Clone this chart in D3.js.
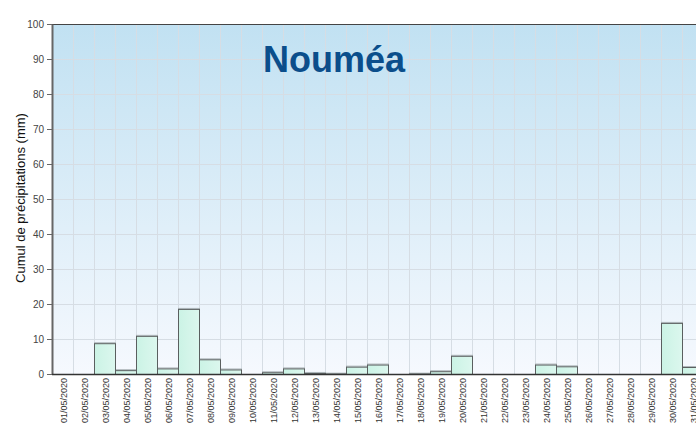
<!DOCTYPE html>
<html><head><meta charset="utf-8">
<script src="https://cdn.jsdelivr.net/npm/d3@7"></script>
<style>body{margin:0;background:#fff;}svg{display:block;font-family:"Liberation Sans",Arial,sans-serif;}</style>
</head><body>
<svg id="c" width="696" height="428"></svg>
<script>
const categories = ["01/05/2020","02/05/2020","03/05/2020","04/05/2020","05/05/2020","06/05/2020","07/05/2020","08/05/2020","09/05/2020","10/05/2020","11/05/2020","12/05/2020","13/05/2020","14/05/2020","15/05/2020","16/05/2020","17/05/2020","18/05/2020","19/05/2020","20/05/2020","21/05/2020","22/05/2020","23/05/2020","24/05/2020","25/05/2020","26/05/2020","27/05/2020","28/05/2020","29/05/2020","30/05/2020","31/05/2020"];
const rainfall = [0,0,8.8,1.1,10.9,1.6,18.6,4.2,1.3,0,0.5,1.6,0.3,0.1,2.1,2.7,0,0.1,0.8,5.2,0,0,0,2.7,2.2,0,0,0,0,14.6,2.0];
const yTicks = [0,10,20,30,40,50,60,70,80,90,100];
const title = "Nouméa";
const yLabel = "Cumul de précipitations (mm)";

const svg = d3.select("#c");
const L = 52, T = 24, B = 374, R = L + categories.length * 21;
const x = d3.scaleBand().domain(categories).range([L, R]).padding(0);
const y = d3.scaleLinear().domain([0, 100]).range([B, T]);

const defs = svg.append("defs");
const bg = defs.append("linearGradient").attr("id","bg").attr("x1",0).attr("y1",0).attr("x2",0).attr("y2",1);
bg.append("stop").attr("offset","0%").attr("stop-color","#c1e1f2");
bg.append("stop").attr("offset","100%").attr("stop-color","#f6f9fe");
const bf = defs.append("linearGradient").attr("id","bf").attr("x1",0).attr("y1",0).attr("x2",1).attr("y2",0);
bf.append("stop").attr("offset","0%").attr("stop-color","#cbf3e5");
bf.append("stop").attr("offset","100%").attr("stop-color","#dcf7ee");

svg.append("rect").attr("x",L).attr("y",T).attr("width",R-L).attr("height",B-T).attr("fill","url(#bg)");

// grid
svg.append("g").selectAll("line").data(yTicks).join("line")
  .attr("x1",L).attr("x2",R).attr("y1",d=>y(d)+0.5).attr("y2",d=>y(d)+0.5)
  .attr("stroke","#d6dde4").attr("stroke-width",1);
svg.append("g").selectAll("line").data(categories.slice(1)).join("line")
  .attr("x1",d=>Math.round(x(d))+0.5).attr("x2",d=>Math.round(x(d))+0.5).attr("y1",T).attr("y2",B)
  .attr("stroke","#d6dde4").attr("stroke-width",1);

// bars shadow
svg.append("g").selectAll("rect").data(categories).join("rect")
  .attr("x",d=>x(d)+0.5).attr("y",(d,i)=>y(rainfall[i])-0.5)
  .attr("width",x.bandwidth()).attr("height",(d,i)=>Math.max(0,B-y(rainfall[i])))
  .attr("fill","none").attr("stroke","#b0b8bc").attr("stroke-width",1)
  .style("display",(d,i)=>rainfall[i]>0?null:"none");
// bars
svg.append("g").selectAll("rect").data(categories).join("rect")
  .attr("x",d=>x(d)+0.5).attr("y",(d,i)=>y(rainfall[i])+0.5)
  .attr("width",x.bandwidth()).attr("height",(d,i)=>Math.max(0,B-y(rainfall[i])))
  .attr("fill","url(#bf)").attr("stroke","#5a5f5f").attr("stroke-width",1)
  .style("display",(d,i)=>rainfall[i]>0?null:"none");

// top border
svg.append("line").attr("x1",L).attr("x2",R).attr("y1",T+0.5).attr("y2",T+0.5).attr("stroke","#444").attr("stroke-width",1.2);

// y axis
const ya = svg.append("g").attr("transform",`translate(${L},0)`)
  .call(d3.axisLeft(y).tickValues(yTicks).tickSize(5).tickSizeOuter(0).tickPadding(3));
ya.select(".domain").attr("stroke","#666").attr("stroke-width",2);
ya.selectAll(".tick line").attr("stroke","#666");
ya.selectAll("text").attr("font-size","10px").attr("fill","#444").attr("font-family","Liberation Sans, Arial, sans-serif");

// x axis
const xa = svg.append("g").attr("transform",`translate(0,${B})`)
  .call(d3.axisBottom(x).tickSize(0).tickPadding(4));
xa.select(".domain").attr("stroke","#333").attr("stroke-width",1.5).attr("d",`M${L},0.5H${R}`);
xa.selectAll("text").attr("font-size","9.5px").attr("fill","#333")
  .attr("font-family","Liberation Sans, Arial, sans-serif")
  .attr("text-anchor","end").attr("transform","rotate(-90)")
  .attr("textLength",45).attr("lengthAdjust","spacingAndGlyphs")
  .attr("x",-4).attr("y",1).attr("dy","0.35em");

// title
svg.append("text").attr("x",334).attr("y",72).attr("text-anchor","middle")
  .attr("font-size","36px").attr("font-weight","bold").attr("fill","#0b4e8b").text(title);

// y label
svg.append("text").attr("transform","translate(25,198) rotate(-90)").attr("text-anchor","middle")
  .attr("font-size","13px").attr("fill","#111").text(yLabel);
</script>
</body></html>
